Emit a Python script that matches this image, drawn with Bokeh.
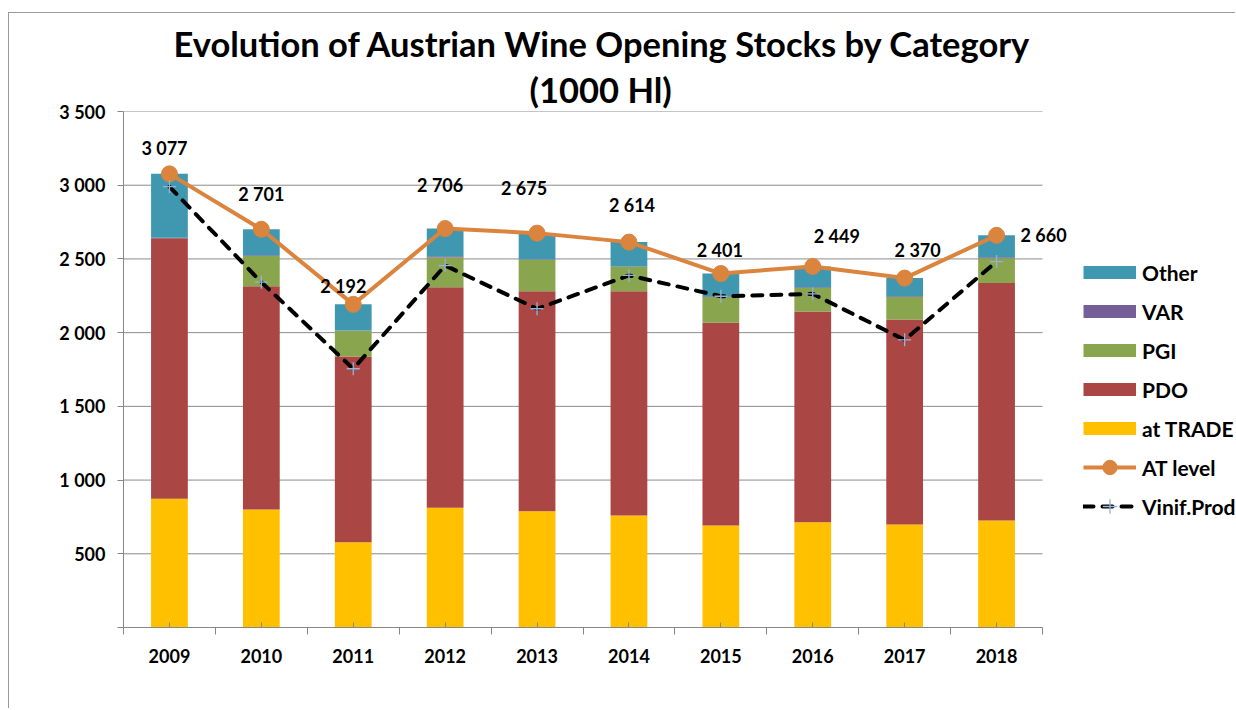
import numpy as np
from bokeh.plotting import figure
from bokeh.models import (ColumnDataSource, FixedTicker, Legend, LegendItem, Title,
                          Range1d, Spacer)
from bokeh.layouts import column, row
from bokeh.core.properties import value
from bokeh.embed import file_html
from bokeh.resources import INLINE

# ---------------- data ----------------
years = ["2009", "2010", "2011", "2012", "2013", "2014", "2015", "2016", "2017", "2018"]
at_trade = [873, 800, 579, 812, 789, 760, 692, 714, 699, 726]
pdo = [1768, 1515, 1259, 1496, 1492, 1521, 1375, 1429, 1390, 1610]
pgi = [0, 205, 174, 202, 214, 165, 175, 160, 153, 168]
var = [3, 5, 3, 8, 3, 3, 5, 5, 5, 8]
other = [433, 176, 177, 188, 177, 165, 154, 141, 123, 148]
at_level = [3077, 2701, 2192, 2706, 2675, 2614, 2401, 2449, 2370, 2660]
vinif_prod = [2990, 2342, 1755, 2455, 2162, 2388, 2247, 2263, 1951, 2482]
y_ticks = [0, 500, 1000, 1500, 2000, 2500, 3000, 3500]
y_tick_labels = ["", "500", "1 000", "1 500", "2 000", "2 500", "3 000", "3 500"]

# ---------------- styles / layout ----------------
FONT = value("Lato")
C_OTHER, C_VAR, C_PGI, C_PDO, C_TRADE = "#4098B0", "#765E98", "#89A54E", "#AA4643", "#FFC000"
C_AT = "#DB843D"
C_AXIS = "#878787"
label_dx = [-5, 0, -10, -5, -13, 3, -1, 24, 13, 47]
label_dy = [-26, -35, -18, -44, -45, -37, -24, -30, -28, 0]

W, H = 1227, 696
BORDER_L, BORDER_T = 114, 98
PLOT_W, PLOT_H = 919, 516          # pixel width of the category area, height of the value area
frame_w = W - BORDER_L             # frame runs to the right edge (legend lives inside it)

n = len(years)
xs = list(range(1, n + 1))
x_lo, x_hi = 0.5, n + 0.5
x_end = x_lo + n * frame_w / PLOT_W

src = ColumnDataSource(dict(x=xs, trade=at_trade, pdo=pdo, pgi=pgi, var=var, other=other))

p = figure(width=W, height=H, x_range=Range1d(x_lo, x_end),
           y_range=Range1d(y_ticks[0], y_ticks[-1]), title=None,
           output_backend="svg", toolbar_location=None,
           min_border_left=BORDER_L, min_border_right=0, min_border_top=BORDER_T,
           min_border_bottom=H - BORDER_T - PLOT_H,
           outline_line_color=None,
           styles={"border-left": "1px solid #9a9a9a", "border-top": "1px solid #9a9a9a"})

# horizontal gridlines limited to the category area
p.segment(x0=[x_lo] * len(y_ticks), x1=[x_hi] * len(y_ticks), y0=y_ticks, y1=y_ticks,
          line_color="#8c8c8c", line_width=1, level="underlay")

bars = p.vbar_stack(["trade", "pdo", "pgi", "var", "other"], x="x", width=0.4,
                    color=[C_TRADE, C_PDO, C_PGI, C_VAR, C_OTHER], line_color=None, source=src)

at_line = p.line(xs, at_level, line_color=C_AT, line_width=4)
at_pts = p.scatter(xs, at_level, size=16, fill_color=C_AT, line_color=C_AT)

v_line = p.line(xs, vinif_prod, line_color="black", line_width=4, line_dash="10 9", line_cap="round")
v_pts = p.scatter(xs, vinif_prod, marker="cross", size=13, line_color="#95B3D7", line_width=1.3)

# legend swatches for the stacked bars (off-screen single-point lines drawn as thick bands)
swatches = {}
for name, col in [("Other", C_OTHER), ("VAR", C_VAR), ("PGI", C_PGI), ("PDO", C_PDO),
                  ("at TRADE", C_TRADE)]:
    swatches[name] = p.line([x_lo], [-1000], line_color=col, line_width=13, line_cap="butt")

lab_src = ColumnDataSource(dict(x=xs, y=at_level,
                                text=[f"{v:,}".replace(",", " ") for v in at_level],
                                dx=label_dx, dy=label_dy))
p.text(x="x", y="y", text="text", x_offset="dx", y_offset="dy", source=lab_src,
       text_font=FONT, text_font_style="bold", text_font_size="18px",
       text_align="center", text_baseline="middle", text_color="black")

# axes
p.xaxis.ticker = FixedTicker(ticks=xs, minor_ticks=[x + 0.5 for x in range(0, n + 1)])
p.xaxis.major_label_overrides = {x: y for x, y in zip(xs, years)}
p.xaxis.bounds = (x_lo, x_hi)
p.xaxis.major_tick_in = 5
p.xaxis.major_tick_out = 0
p.xaxis.minor_tick_in = 0
p.xaxis.minor_tick_out = 7
p.xaxis.major_label_standoff = 14

p.yaxis.ticker = FixedTicker(ticks=y_ticks)
p.yaxis.major_label_overrides = {t: l for t, l in zip(y_ticks, y_tick_labels)}
p.yaxis.major_tick_in = 0
p.yaxis.major_tick_out = 6
p.yaxis.major_label_standoff = 12

for ax in (p.xaxis[0], p.yaxis[0]):
    ax.axis_line_color = C_AXIS
    ax.major_tick_line_color = C_AXIS
    ax.minor_tick_line_color = C_AXIS
    ax.major_label_text_font = "Lato"
    ax.major_label_text_font_style = "bold"
    ax.major_label_text_color = "black"
p.xaxis.major_label_text_font_size = "18px"
p.yaxis.major_label_text_font_size = "18px"

p.xgrid.visible = False
p.ygrid.visible = False

# title (two lines), left-aligned with offsets so both lines centre at ~x=600
t2 = Title(text="(1000 Hl)", align="left", text_font="Lato", text_font_style="bold",
           text_font_size="34.5px", text_color="black", standoff=4, offset=406)
t1 = Title(text="Evolution of Austrian Wine Opening Stocks by Category", align="left",
           text_font="Lato", text_font_style="bold", text_font_size="34.5px",
           text_color="black", standoff=2, offset=50)
p.add_layout(t2, "above")
p.add_layout(t1, "above")

# legend (inside the extended frame, right of the categories)
leg = Legend(items=[LegendItem(label="Other", renderers=[swatches["Other"]]),
                    LegendItem(label="VAR", renderers=[swatches["VAR"]]),
                    LegendItem(label="PGI", renderers=[swatches["PGI"]]),
                    LegendItem(label="PDO", renderers=[swatches["PDO"]]),
                    LegendItem(label="at TRADE", renderers=[swatches["at TRADE"]]),
                    LegendItem(label="AT level", renderers=[at_line, at_pts]),
                    LegendItem(label="Vinif.Prod", renderers=[v_line, v_pts])],
             location=(960, 103), glyph_width=53, glyph_height=36, label_height=36, spacing=3,
             padding=0, margin=0, border_line_color=None, background_fill_alpha=0,
             label_standoff=6, label_text_font="Lato", label_text_font_style="bold",
             label_text_font_size="21px", label_text_color="black")
p.add_layout(leg)

layout = column(Spacer(height=12), row(Spacer(width=8), p))
open("out.html", "w").write(file_html(layout, INLINE))
